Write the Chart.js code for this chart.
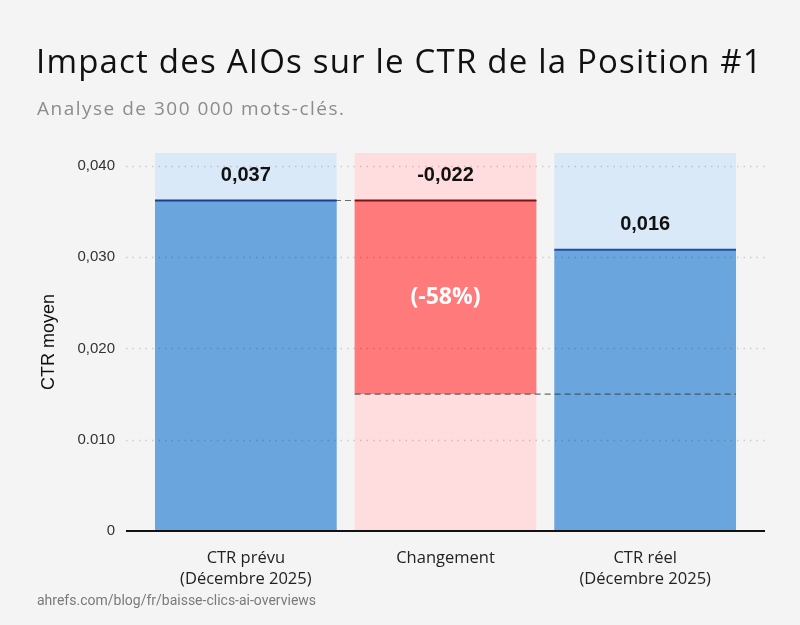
<!DOCTYPE html>
<html>
<head>
<meta charset="utf-8">
<script src="https://cdn.jsdelivr.net/npm/chart.js@4.4.1/dist/chart.umd.min.js"></script>
<style>
  html, body { margin: 0; padding: 0; background: #f4f4f4; }
  #page { position: relative; width: 800px; height: 625px; overflow: hidden; }
  #graf { position: absolute; left: 0; top: 0; }
  .txt { position: absolute; white-space: nowrap; font-family: "Open Sans", "Liberation Sans", sans-serif; }
  #titre { left: 36px; top: 39px; font-size: 33px; letter-spacing: 1.2px; color: #111; line-height: 44px; }
  #sous_titre { left: 37px; top: 95px; font-size: 19px; letter-spacing: 1.5px; color: #8c8c8c; line-height: 26px; }
  #source { left: 37px; top: 591px; font-size: 14px; color: #7a7a7a; line-height: 18px; font-family: "Roboto", sans-serif; }
</style>
</head>
<body>
<div id="page">
  <canvas id="graf" width="800" height="625"></canvas>
  <div class="txt" id="titre">Impact des AIOs sur le CTR de la Position #1</div>
  <div class="txt" id="sous_titre">Analyse de 300 000 mots-clés.</div>
  <div class="txt" id="source">ahrefs.com/blog/fr/baisse-clics-ai-overviews</div>
</div>
<script>
// donnees
var categorias = [["CTR prévu", "(Décembre 2025)"], "Changement", ["CTR réel", "(Décembre 2025)"]];
var debut_barre = [0, 0.0150, 0];
var fin_barre = [0.0362, 0.0362, 0.0308];
var haut_fond = [0.0414, 0.0414, 0.0414];
var etiquettes = ["0,037", "-0,022", "0,016"];
var etiquette_pct = "(-58%)";
var ticks_y = [0, 0.01, 0.02, 0.03, 0.04];
var ticks_y_txt = ["0", "0.010", "0,020", "0,030", "0,040"];

var barres = [];
var fonds = [];
for (var i = 0; i < categorias.length; i++) {
  barres.push([debut_barre[i], fin_barre[i]]);
  fonds.push([0, haut_fond[i]]);
}

// grille pointillee, ligne de base, traits tiretes et textes
const decor = {
  id: "decor",
  afterDatasetsDraw(chart) {
    const ctx = chart.ctx;
    const y = chart.scales.y;
    const meta = chart.getDatasetMeta(1);
    const x0 = chart.chartArea.left - 20;
    const x1 = chart.chartArea.right + 20;
    ctx.save();

    // grille
    ctx.strokeStyle = "rgba(0,0,0,0.16)";
    ctx.lineWidth = 1.5;
    ctx.setLineDash([1.5, 5]);
    for (var k = 1; k < ticks_y.length; k++) {
      var py = Math.round(y.getPixelForValue(ticks_y[k])) + 0.5;
      ctx.beginPath();
      ctx.moveTo(x0, py);
      ctx.lineTo(x1, py);
      ctx.stroke();
    }

    // traits tiretes
    const b0 = meta.data[0], b1 = meta.data[1], b2 = meta.data[2];
    ctx.strokeStyle = "rgba(60,60,60,0.75)";
    ctx.lineWidth = 1.2;
    ctx.setLineDash([6, 4]);
    var yHaut = y.getPixelForValue(fin_barre[0]);
    ctx.beginPath();
    ctx.moveTo(b0.x - b0.width / 2, yHaut);
    ctx.lineTo(b1.x + b1.width / 2, yHaut);
    ctx.stroke();
    var yBas = y.getPixelForValue(debut_barre[1]);
    ctx.beginPath();
    ctx.moveTo(b1.x - b1.width / 2, yBas);
    ctx.lineTo(b2.x + b2.width / 2, yBas);
    ctx.stroke();

    // bordures du haut
    ctx.setLineDash([]);
    var couleurs_haut = ["#1c3f8c", "#7a1515", "#1d4fa6"];
    ctx.lineWidth = 2;
    for (var j = 0; j < meta.data.length; j++) {
      var b = meta.data[j];
      var ty = y.getPixelForValue(fin_barre[j]);
      ctx.strokeStyle = couleurs_haut[j];
      ctx.beginPath();
      ctx.moveTo(b.x - b.width / 2, ty);
      ctx.lineTo(b.x + b.width / 2, ty);
      ctx.stroke();
    }

    // ligne de base
    var y0 = y.getPixelForValue(0);
    ctx.strokeStyle = "#111";
    ctx.lineWidth = 2;
    ctx.beginPath();
    ctx.moveTo(x0, y0);
    ctx.lineTo(x1, y0);
    ctx.stroke();

    // etiquettes
    ctx.fillStyle = "#111";
    ctx.font = "bold 20px 'Liberation Sans', Arial, sans-serif";
    ctx.textAlign = "center";
    ctx.textBaseline = "middle";
    for (var m = 0; m < meta.data.length; m++) {
      ctx.fillText(etiquettes[m], meta.data[m].x, y.getPixelForValue(fin_barre[m]) - 25);
    }
    ctx.fillStyle = "#ffffff";
    ctx.font = "bold 23px 'Open Sans', 'Liberation Sans', sans-serif";
    var yMilieu = (y.getPixelForValue(debut_barre[1]) + y.getPixelForValue(fin_barre[1])) / 2;
    ctx.fillText(etiquette_pct, b1.x, yMilieu);
    ctx.restore();
  },
};

const g_ctr = document.getElementById("graf");

new Chart(g_ctr, {
  type: "bar",
  data: {
    labels: categorias,
    datasets: [
      {
        label: "Fond",
        data: fonds,
        backgroundColor: ["#dae9f8", "#ffdcdd", "#dae9f8"],
        borderWidth: 0,
        order: 2,
      },
      {
        label: "CTR",
        data: barres,
        backgroundColor: ["#6aa6dd", "#ff7b7b", "#6aa6dd"],
        borderWidth: 0,
        order: 1,
      },
    ],
  },
  options: {
    responsive: false,
    animation: false,
    grouped: false,
    categoryPercentage: 1,
    barPercentage: 0.91,
    layout: {
      padding: { left: 36, right: 55, top: 153, bottom: 24 },
    },
    plugins: {
      legend: { display: false },
      tooltip: { enabled: false },
    },
    scales: {
      x: {
        grid: { display: false },
        border: { display: false },
        ticks: {
          color: "#222",
          padding: 9,
          font: { family: "'Open Sans', 'Liberation Sans', sans-serif", size: 16.5, lineHeight: 1.25 },
        },
        afterFit: function (scale) {
          scale.height = 70;
        },
      },
      y: {
        min: 0,
        max: 0.0414,
        grid: { display: false, drawTicks: false },
        border: { display: false },
        afterBuildTicks: function (scale) {
          scale.ticks = ticks_y.map(function (v) { return { value: v }; });
        },
        ticks: {
          color: "#333",
          padding: 31,
          font: { family: "'Liberation Sans', Arial, sans-serif", size: 15 },
          callback: function (valeur) {
            return ticks_y_txt[ticks_y.indexOf(valeur)];
          },
        },
        title: {
          display: true,
          text: "CTR moyen",
          color: "#111",
          padding: 2,
          font: { family: "'Liberation Sans', Arial, sans-serif", size: 18 },
        },
        afterFit: function (scale) {
          scale.width = 110;
        },
      },
    },
  },
  plugins: [decor],
});
</script>
</body>
</html>
